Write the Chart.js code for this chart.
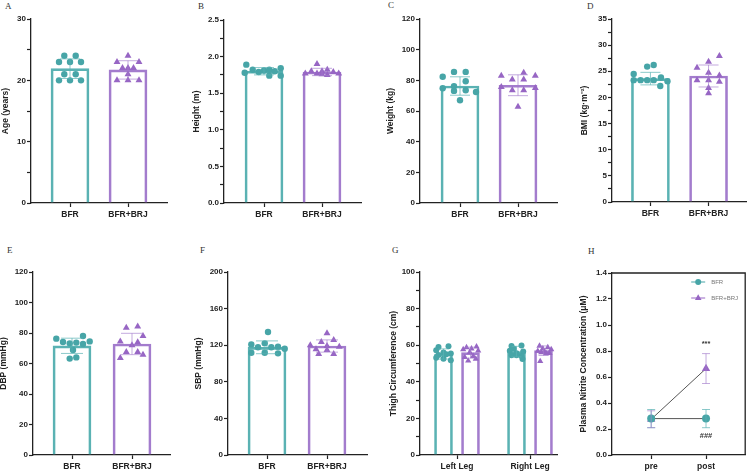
<!DOCTYPE html>
<html>
<head>
<meta charset="utf-8">
<script src="https://cdn.jsdelivr.net/npm/chart.js@4.4.1/dist/chart.umd.min.js"></script>
<style>
  body { margin: 0; background: #fff; }
  #fig { position: relative; width: 750px; height: 472px; overflow: hidden; background: #fff; }
  #fig canvas { position: absolute; }
  .lab { position: absolute; font-family: "Liberation Serif", "Times New Roman", serif; font-size: 9px; color: #333; }
</style>
</head>
<body>
<div id="fig">
  <div class="lab" style="left:5px;top:1px">A</div>
  <div class="lab" style="left:198px;top:1px">B</div>
  <div class="lab" style="left:388px;top:0px">C</div>
  <div class="lab" style="left:587px;top:1px">D</div>
  <div class="lab" style="left:7px;top:245px">E</div>
  <div class="lab" style="left:200px;top:245px">F</div>
  <div class="lab" style="left:392px;top:245px">G</div>
  <div class="lab" style="left:588px;top:246px">H</div>
</div>
<script>
// Données
const groups = ['BFR', 'BFR+BRJ'];
const legs = ['Left Leg', 'Right Leg'];
const times = ['pre', 'post'];

// A - âge
const ageBFR = [24, 24, 23, 23, 23, 21, 21, 20, 20, 20];
const ageBRJ = [24, 23, 23, 22, 22, 22, 21, 20, 20, 20];
const ageMean = [21.9, 21.7];
const ageSD = [1.6, 1.5];

// B - taille
const heightBFR = [1.89, 1.78, 1.82, 1.79, 1.81, 1.82, 1.74, 1.80, 1.84, 1.74];
const heightBRJ = [1.90, 1.77, 1.80, 1.77, 1.80, 1.82, 1.75, 1.79, 1.77, 1.76];
const heightMean = [1.80, 1.79];
const heightSD = [0.05, 0.05];

// C - poids
const weightBFR = [82.3, 85.5, 85.5, 79.4, 76.2, 74.8, 73.5, 73.1, 72.4, 67.0];
const weightBRJ = [85.0, 83.0, 83.0, 80.5, 80.5, 75.7, 75.0, 73.5, 73.5, 62.8];
const weightMean = [76.3, 76.8];
const weightSD = [6.0, 6.8];

// D - IMC
const bmiBFR = [26.2, 25.9, 24.5, 23.3, 23.3, 23.3, 23.3, 23.8, 23.1, 22.2];
const bmiBRJ = [27.9, 25.7, 26.8, 24.7, 23.3, 24.2, 23.3, 23.0, 21.8, 20.8];
const bmiMean = [23.6, 24.1];
const bmiSD = [1.2, 2.1];

// E - DBP
const dbpBFR = [76.3, 78.0, 74.1, 73.2, 73.7, 72.8, 74.5, 68.9, 63.2, 64.0];
const dbpBRJ = [83.5, 84.2, 74.5, 78.0, 71.9, 67.5, 67.5, 63.6, 65.8, 74.0];
const dbpMean = [71.6, 72.8];
const dbpSD = [5.0, 7.0];

// F - SBP
const sbpBFR = [134.4, 120.9, 122.0, 117.7, 117.7, 118.4, 116.2, 111.8, 111.8, 111.1];
const sbpBRJ = [133.0, 125.7, 123.5, 119.9, 119.1, 118.4, 115.5, 114.8, 110.4, 110.4];
const sbpMean = [117.7, 119.1];
const sbpSD = [7.0, 6.7];

// G - tour de cuisse
const thighLeftBFR = [59.0, 59.4, 57.2, 56.0, 55.5, 54.6, 55.0, 53.2, 52.6, 51.8];
const thighLeftBRJ = [58.8, 59.2, 57.7, 58.1, 57.0, 56.2, 53.4, 54.0, 51.5, 52.5];
const thighRightBFR = [59.6, 59.9, 58.1, 57.0, 56.6, 55.6, 54.5, 54.1, 54.5, 52.5];
const thighRightBRJ = [59.6, 58.8, 58.1, 57.7, 56.8, 56.3, 55.6, 56.0, 55.5, 51.2];
const thighMeanBFR = [55.2, 56.5];
const thighMeanBRJ = [55.9, 57.0];
const thighSDBFR = [2.8, 2.9];
const thighSDBRJ = [3.0, 2.6];

// H - nitrite plasmatique
const nitriteBFR = [0.28, 0.28];
const nitriteBRJ = [0.275, 0.665];
const nitriteSDBFR = [0.07, 0.07];
const nitriteSDBRJ = [0.065, 0.115];
const marks = [{ x: 1, y: 0.855, text: '***' }, { x: 1, y: 0.145, text: '###' }];

// Décalages horizontaux des points (px par rapport au centre de la barre)
const jitAgeBFR = [-5.7, 5.7, -11, 0, 11, -5.7, 5.7, -11, 0, 11];
const jitAgeBRJ = [0, -11, 11, -5.5, 0, 5.5, 0, -11, 0, 11];
const jitHeightBFR = [-17.7, -19.3, -11.3, -5.3, 0, 5.3, 5.3, 10.7, 16.7, 16.7];
const jitHeightBRJ = [-5, -16.7, -10.7, -5, 0, 5.3, 5.3, 11.3, 16.7, 0];
const jitWeightBFR = [-17.3, -6, 5.7, 5.7, -6, -17.3, 5.7, -6, 16, 0];
const jitWeightBRJ = [5.7, -16.7, 17.3, -5.7, 5.7, -16.7, 17.3, -5.7, 5.7, 0];
const jitBmiBFR = [3.3, -3.3, -17, -17, -10, -3.3, 3.3, 10.7, 17.3, 10];
const jitBmiBRJ = [11, -11.7, 0, 0, -11.7, 11, 0, 11, 0, 0];
const jitDbpBFR = [-15.7, 11, -9, -2.3, 4.3, 11, 17.7, 1, -2.3, 4.3];
const jitDbpBRJ = [-5.7, 5.7, -11.7, 11, 0, -5.7, 5.7, -11.7, 11, 5.7];
const jitSbpBFR = [1, -15.7, -2.3, -9, 4.3, 11, 17.7, -15.7, -2.3, 11];
const jitSbpBRJ = [0, 6.7, -5.7, -16.7, 0, 12.3, -11, 0, -8.3, 6.7];
const jitThighLBFR = [-5, 5, -7.3, 0, 7.3, -5, 2.7, -7.3, 0, 7.3];
const jitThighLBRJ = [-4, 6, -7.3, 1, 7.7, -0.7, -5.7, 2.7, -2.3, 5.3];
const jitThighRBFR = [-5, 5, -2.7, -6.7, 6.7, 0, -5, 5, 0, 6];
const jitThighRBRJ = [-4, 4.3, -0.7, 7.7, -5.7, 1, 6, -2.3, 2.7, -3.3];

// Styles
const TEAL = '#47a5a7', TEAL_BAR = '#5ab2b3', TEAL_ERR = 'rgba(90,178,179,0.7)';
const PURPLE = '#9766c4', PURPLE_BAR = '#a37ccd', PURPLE_ERR = 'rgba(163,124,205,0.65)';
const INK = '#222';

Chart.defaults.font.family = '"Liberation Sans", Arial, sans-serif';
Chart.defaults.color = INK;
Chart.defaults.animation = false;

const fig = document.getElementById('fig');

function tickLabel(v, major, dec) {
  const r = v / major;
  return Math.abs(r - Math.round(r)) < 1e-6 ? v.toFixed(dec) : '';
}

// Barres d'erreur
const errorBars = {
  id: 'errorBars',
  afterDatasetsDraw(chart, args, o) {
    const xs = chart.scales.x, ys = chart.scales.y, ctx = chart.ctx;
    (o.items || []).forEach(it => {
      const px = xs.getPixelForValue(it.x);
      const top = ys.getPixelForValue(it.mean + it.sd);
      const bot = ys.getPixelForValue(it.mean - it.sd);
      ctx.save();
      ctx.strokeStyle = it.color;
      ctx.lineWidth = 1;
      ctx.beginPath();
      ctx.moveTo(px, top); ctx.lineTo(px, bot);
      ctx.moveTo(px - it.cap / 2, top); ctx.lineTo(px + it.cap / 2, top);
      ctx.moveTo(px - it.cap / 2, bot); ctx.lineTo(px + it.cap / 2, bot);
      ctx.stroke();
      ctx.restore();
    });
  }
};

function makeCanvas(p) {
  const cv = document.createElement('canvas');
  cv.width = p.w; cv.height = p.h;
  cv.style.left = p.left + 'px';
  cv.style.top = p.top + 'px';
  cv.style.width = p.w + 'px';
  cv.style.height = p.h + 'px';
  fig.appendChild(cv);
  return cv;
}

function scalesFor(p, cats) {
  const sp = p.c1 - p.c0;
  return {
    x: {
      type: 'linear', offset: false, bounds: 'data',
      min: -(p.c0 - p.axisX) / sp,
      max: cats.length - 1 + (p.plotRight - p.c1) / sp,
      afterBuildTicks: s => { s.ticks = cats.map((c, i) => ({ value: i })); },
      afterFit: s => { s.height = p.top + p.h - p.plotBottom; },
      grid: { display: true, offset: false, drawOnChartArea: false, drawTicks: true, tickLength: 4, tickColor: INK, tickWidth: 1.2 },
      border: { display: true, color: INK, width: 1.3 },
      ticks: { autoSkip: false, maxRotation: 0, padding: 3, font: { size: 8.5, weight: 'bold' }, callback: (v, i) => cats[i] }
    },
    y: {
      type: 'linear', min: 0, max: p.ymax,
      afterFit: s => { s.width = p.axisX - p.left; },
      grid: { display: true, drawOnChartArea: false, drawTicks: true, tickLength: 4, tickColor: INK, tickWidth: 1.2 },
      border: { display: true, color: INK, width: 1.3 },
      ticks: { stepSize: p.minor, maxTicksLimit: 60, autoSkip: false, padding: 1, font: { size: 8, weight: 'bold' },
        callback: v => tickLabel(v, p.major, p.dec) },
      title: { display: true, text: p.title, padding: { top: 0, bottom: 0 }, font: { size: 8.5, weight: 'bold' } }
    }
  };
}

function barPanel(p) {
  const sp = p.c1 - p.c0;
  const datasets = [], errs = [];
  p.series.forEach(s => {
    const off = (s.shift || 0) / sp;
    datasets.push({
      type: 'bar', order: 3,
      data: s.cats.map((c, k) => ({ x: c + off, y: s.means[k] })),
      backgroundColor: 'rgba(255,255,255,0)', borderColor: s.bar, borderWidth: 2,
      barThickness: p.barW, grouped: false
    });
    const pts = [];
    s.cats.forEach((c, k) => s.values[k].forEach((v, j) => pts.push({ x: c + off + s.jitter[k][j] / sp, y: v })));
    datasets.push({
      type: 'scatter', order: 1, data: pts,
      pointStyle: s.marker, pointRadius: s.r, pointHoverRadius: s.r,
      backgroundColor: s.color, borderColor: s.color, borderWidth: 0
    });
    s.cats.forEach((c, k) => errs.push({ x: c + off, mean: s.means[k], sd: s.sds[k], color: s.err, cap: p.cap }));
  });

  new Chart(makeCanvas(p), {
    type: 'bar',
    data: { datasets },
    options: {
      responsive: false, devicePixelRatio: 1,
      layout: { padding: { left: 0, right: p.left + p.w - p.plotRight, top: p.plotTop - p.top, bottom: 0 } },
      scales: scalesFor(p, p.cats),
      plugins: { legend: { display: false }, tooltip: { enabled: false }, errorBars: { items: errs } }
    },
    plugins: [errorBars]
  });
}

const bfr = (vals, mean, sd, jit, extra) => Object.assign({ cats: [0], values: [vals], means: [mean], sds: [sd], jitter: [jit],
  color: TEAL, bar: TEAL_BAR, err: TEAL_ERR, marker: 'circle', r: 3.2 }, extra || {});
const brj = (vals, mean, sd, jit, extra) => Object.assign({ cats: [1], values: [vals], means: [mean], sds: [sd], jitter: [jit],
  color: PURPLE, bar: PURPLE_BAR, err: PURPLE_ERR, marker: 'triangle', r: 4 }, extra || {});

// A
barPanel({ left: 1, top: 0, w: 174, h: 236, axisX: 31, plotTop: 19, plotBottom: 203, plotRight: 167, c0: 70, c1: 128,
  ymax: 30, minor: 5, major: 10, dec: 0, title: 'Age (years)', cats: groups, barW: 38, cap: 20,
  series: [bfr(ageBFR, ageMean[0], ageSD[0], jitAgeBFR), brj(ageBRJ, ageMean[1], ageSD[1], jitAgeBRJ)] });

// B
barPanel({ left: 192, top: 0, w: 176, h: 236, axisX: 224, plotTop: 20, plotBottom: 203, plotRight: 361, c0: 264, c1: 322,
  ymax: 2.5, minor: 0.25, major: 0.5, dec: 1, title: 'Height (m)', cats: groups, barW: 38, cap: 20,
  series: [bfr(heightBFR, heightMean[0], heightSD[0], jitHeightBFR), brj(heightBRJ, heightMean[1], heightSD[1], jitHeightBRJ)] });

// C
barPanel({ left: 386, top: 0, w: 178, h: 236, axisX: 420, plotTop: 19, plotBottom: 203, plotRight: 557, c0: 460, c1: 518,
  ymax: 120, minor: 20, major: 20, dec: 0, title: 'Weight (kg)', cats: groups, barW: 38, cap: 20,
  series: [bfr(weightBFR, weightMean[0], weightSD[0], jitWeightBFR), brj(weightBRJ, weightMean[1], weightSD[1], jitWeightBRJ)] });

// D
barPanel({ left: 580, top: 0, w: 170, h: 236, axisX: 612, plotTop: 19, plotBottom: 202, plotRight: 748, c0: 651, c1: 710,
  ymax: 35, minor: 2.5, major: 5, dec: 0, title: 'BMI (kg·m⁻²)', cats: groups, barW: 38, cap: 20,
  series: [bfr(bmiBFR, bmiMean[0], bmiSD[0], jitBmiBFR), brj(bmiBRJ, bmiMean[1], bmiSD[1], jitBmiBRJ)] });

// E
barPanel({ left: -1, top: 236, w: 178, h: 236, axisX: 33, plotTop: 272, plotBottom: 455, plotRight: 170, c0: 72, c1: 132,
  ymax: 120, minor: 20, major: 20, dec: 0, title: 'DBP (mmHg)', cats: groups, barW: 38, cap: 22,
  series: [bfr(dbpBFR, dbpMean[0], dbpSD[0], jitDbpBFR), brj(dbpBRJ, dbpMean[1], dbpSD[1], jitDbpBRJ)] });

// F
barPanel({ left: 194, top: 236, w: 180, h: 236, axisX: 228, plotTop: 272, plotBottom: 455, plotRight: 367, c0: 267, c1: 327,
  ymax: 200, minor: 40, major: 40, dec: 0, title: 'SBP (mmHg)', cats: groups, barW: 38, cap: 22,
  series: [bfr(sbpBFR, sbpMean[0], sbpSD[0], jitSbpBFR), brj(sbpBRJ, sbpMean[1], sbpSD[1], jitSbpBRJ)] });

// G
barPanel({ left: 389, top: 236, w: 175, h: 236, axisX: 420, plotTop: 272, plotBottom: 455, plotRight: 557, c0: 457, c1: 530,
  ymax: 100, minor: 10, major: 20, dec: 0, title: 'Thigh Circumference (cm)', cats: legs, barW: 18, cap: 10,
  series: [
    { cats: [0, 1], values: [thighLeftBFR, thighRightBFR], means: thighMeanBFR, sds: thighSDBFR, jitter: [jitThighLBFR, jitThighRBFR],
      shift: -13.5, color: TEAL, bar: TEAL_BAR, err: TEAL_ERR, marker: 'circle', r: 3 },
    { cats: [0, 1], values: [thighLeftBRJ, thighRightBRJ], means: thighMeanBRJ, sds: thighSDBRJ, jitter: [jitThighLBRJ, jitThighRBRJ],
      shift: 13.5, color: PURPLE, bar: PURPLE_BAR, err: PURPLE_ERR, marker: 'triangle', r: 3.6 }
  ] });

// H - courbe avec cadre, légende et annotations
const framePlugin = {
  id: 'frame',
  afterDraw(chart) {
    const a = chart.chartArea, ctx = chart.ctx;
    ctx.save();
    ctx.strokeStyle = INK; ctx.lineWidth = 1.3;
    ctx.beginPath();
    ctx.moveTo(a.left, a.top); ctx.lineTo(a.right, a.top); ctx.lineTo(a.right, a.bottom);
    ctx.stroke();
    ctx.restore();
  }
};

function drawMarker(ctx, style, x, y, r, color) {
  ctx.fillStyle = color;
  ctx.beginPath();
  if (style === 'circle') {
    ctx.arc(x, y, r, 0, Math.PI * 2);
  } else {
    ctx.moveTo(x, y - r);
    ctx.lineTo(x + r * 0.866, y + r * 0.5);
    ctx.lineTo(x - r * 0.866, y + r * 0.5);
    ctx.closePath();
  }
  ctx.fill();
}

const legendH = {
  id: 'legendH',
  afterDraw(chart, args, o) {
    const a = chart.chartArea, ctx = chart.ctx;
    ctx.save();
    o.items.forEach((it, i) => {
      const y = a.top + 9 + i * 16, x = a.right - 47;
      ctx.strokeStyle = it.color; ctx.lineWidth = 1;
      ctx.beginPath(); ctx.moveTo(x - 7, y); ctx.lineTo(x + 7, y); ctx.stroke();
      drawMarker(ctx, it.marker, x, y, it.r, it.color);
      ctx.fillStyle = '#777';
      ctx.font = '6px "Liberation Sans", Arial, sans-serif';
      ctx.textBaseline = 'middle'; ctx.textAlign = 'left';
      ctx.fillText(it.text, x + 13, y);
    });
    (o.marks || []).forEach(m => {
      ctx.fillStyle = '#333';
      ctx.font = 'bold 7.5px "Liberation Sans", Arial, sans-serif';
      ctx.textAlign = 'center'; ctx.textBaseline = 'middle';
      ctx.fillText(m.text, chart.scales.x.getPixelForValue(m.x), chart.scales.y.getPixelForValue(m.y));
    });
    ctx.restore();
  }
};

(function () {
  const p = { left: 579, top: 236, w: 171, h: 236, axisX: 612, plotTop: 273, plotBottom: 455, plotRight: 748, c0: 652, c1: 708,
    ymax: 1.4, minor: 0.2, major: 0.2, dec: 1, title: 'Plasma Nitrite Concentration (μM)' };
  const scales = scalesFor(p, times);
  const line = (vals, color, marker, r) => ({
    data: vals.map((v, i) => ({ x: i, y: v })), showLine: true, borderColor: '#555', borderWidth: 1,
    pointStyle: marker, pointRadius: r, pointHoverRadius: r, pointBackgroundColor: color, pointBorderWidth: 0, pointBorderColor: color
  });
  const errs = [];
  nitriteBFR.forEach((v, i) => errs.push({ x: i, mean: v, sd: nitriteSDBFR[i], color: TEAL_ERR, cap: 8 }));
  nitriteBRJ.forEach((v, i) => errs.push({ x: i, mean: v, sd: nitriteSDBRJ[i], color: PURPLE_ERR, cap: 8 }));
  new Chart(makeCanvas(p), {
    type: 'scatter',
    data: { datasets: [line(nitriteBFR, TEAL, 'circle', 4), line(nitriteBRJ, PURPLE, 'triangle', 4.8)] },
    options: {
      responsive: false, devicePixelRatio: 1,
      layout: { padding: { left: 0, right: p.left + p.w - p.plotRight + 1, top: p.plotTop - p.top, bottom: 0 } },
      scales,
      plugins: {
        legend: { display: false }, tooltip: { enabled: false },
        errorBars: { items: errs },
        legendH: { items: [
          { text: 'BFR', color: TEAL, marker: 'circle', r: 3 },
          { text: 'BFR+BRJ', color: PURPLE, marker: 'triangle', r: 3.8 }
        ], marks }
      }
    },
    plugins: [errorBars, framePlugin, legendH]
  });
})();
</script>
</body>
</html>
